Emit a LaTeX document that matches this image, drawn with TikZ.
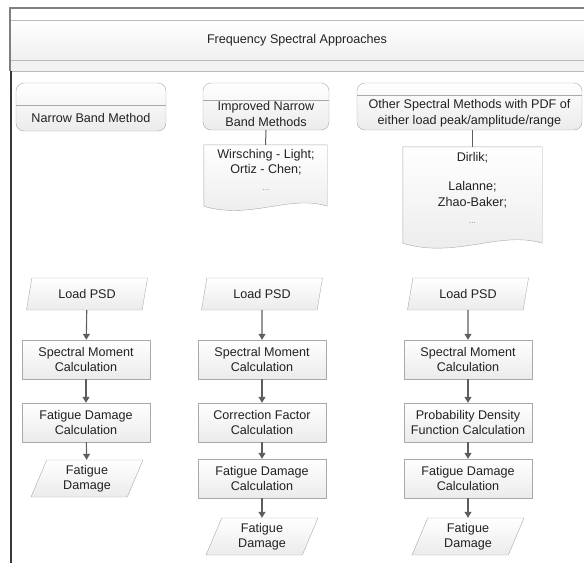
\documentclass[tikz,border=0pt]{standalone}
\usepackage{fontspec}
\setmainfont{Liberation Sans}
\usetikzlibrary{arrows.meta,shapes.geometric}
\definecolor{edgegray}{HTML}{A9A9A9}
\definecolor{flowgray}{HTML}{5E5E5E}
\definecolor{inkgray}{HTML}{222222}
\definecolor{shadegray}{HTML}{EBEBEB}
\newcommand\listdots{\textcolor{gray}{\fontsize{8}{9}\selectfont ...}}
\begin{document}
\begin{tikzpicture} [x=1pt, y=-1pt,
    >={Triangle[length=6pt, width=7pt]},
    every node/.style={inner sep=0pt, align=center, text=inkgray,
      font=\fontsize{12.6}{15.5}\selectfont},
    lanehead/.style={rectangle, rounded corners=8pt, draw=edgegray,
      top color=white, bottom color=shadegray, minimum height=47pt},
    docbox/.style={rectangle},
    docline/.style={draw=edgegray, top color=white, bottom color=shadegray},
    procbox/.style={rectangle, draw=edgegray, top color=white,
      bottom color=shadegray, minimum width=128pt, minimum height=39pt},
    iobox/.style={trapezium, trapezium left angle=60, trapezium right angle=120,
      trapezium stretches body, draw=edgegray, top color=white,
      bottom color=shadegray, minimum width=121pt, minimum height=32pt},
    flow/.style={->, draw=flowgray, line width=1.1pt}]
  \useasboundingbox (0,0) rectangle (584,563);

  % pool header
  \shade[top color=white, bottom color=gray!12] (10,20) rectangle (584,60);
  \fill[gray!10] (10,60) rectangle (584,71);
  \draw[edgegray!80] (10,20) -- (584,20) (10,60) -- (584,60) (10,71) -- (584,71);
  \draw[gray, line width=1.2pt] (584,8) -- (10,8) -- (10,71);
  \draw[inkgray!90, line width=2pt] (11,71) -- (11,563);
  \node (fsa) at (297,40) {Frequency Spectral Approaches};

  % lane headers
  \node[lanehead, minimum height=48pt, minimum width=150pt] (nbm) at (91,107) {};
  \draw[edgegray] (nbm.west |- 0,105) -- (nbm.east |- 0,105);
  \node (nbmt) at (91,118) {Narrow Band Method};

  \node[lanehead, minimum width=126pt] (inb) at (266,106.5) {};
  \draw[edgegray] (inb.west |- 0,100) -- (inb.east |- 0,100);
  \node (inbt) at (266,114) {Improved Narrow\\Band Methods};

  \node[lanehead, minimum width=225pt] (osm) at (469.5,106.5) {};
  \draw[edgegray] (osm.west |- 0,95) -- (osm.east |- 0,95);
  \node (osmt) at (469.5,113) {Other Spectral Methods with PDF of\\either load peak/amplitude/range};

  % method lists
  \node[docbox, minimum width=123pt, minimum height=61pt] (inbdoc) at (265.5,175.5) {};
  \shadedraw[docline] (inbdoc.south west) -- (inbdoc.north west) -- (inbdoc.north east)
    -- (inbdoc.south east) .. controls +(-37,-12) and +(46,14) .. (inbdoc.south west);
  \node (inbdoct) at (266,170) {Wirsching - Light;\\Ortiz - Chen;\\[1.5pt]\listdots};

  \node[docbox, minimum width=139pt, minimum height=96pt] (osmdoc) at (472.5,195) {};
  \shadedraw[docline] (osmdoc.south west) -- (osmdoc.north west) -- (osmdoc.north east)
    -- (osmdoc.south east) .. controls +(-42,-13) and +(52,16) .. (osmdoc.south west);
  \node (osmdoct) at (472.5,188) {Dirlik;\\[13.5pt]Lalanne;\\Zhao-Baker;\\[1.5pt]\listdots};

  \draw[flowgray, line width=1pt] (inb.south) -- (inbdoc.north);
  \draw[flowgray, line width=1pt] (osmdoc.north |- osm.south) -- (osmdoc.north);

  % narrow band
  \node[iobox] (psdA) at (87,294) {Load PSD};
  \node[procbox] (smA) at (86,359.5) {Spectral Moment\\Calculation};
  \node[procbox] (fdcA) at (86,422.5) {Fatigue Damage\\Calculation};
  \node[iobox, minimum width=112pt, minimum height=37pt] (fdA) at (87,478.5) {Fatigue\\Damage};

  % improved narrow band
  \node[iobox] (psdB) at (262,294) {Load PSD};
  \node[procbox] (smB) at (262,359.5) {Spectral Moment\\Calculation};
  \node[procbox] (cfB) at (262,422.5) {Correction Factor\\Calculation};
  \node[procbox] (fdcB) at (262,478.5) {Fatigue Damage\\Calculation};
  \node[iobox, minimum width=112pt, minimum height=37pt] (fdB) at (262,536.5) {Fatigue\\Damage};

  % other spectral
  \node[iobox] (psdC) at (468,294) {Load PSD};
  \node[procbox] (smC) at (468,359.5) {Spectral Moment\\Calculation};
  \node[procbox] (pdfC) at (468,422.5) {Probability Density\\Function Calculation};
  \node[procbox] (fdcC) at (468,478.5) {Fatigue Damage\\Calculation};
  \node[iobox, minimum width=112pt, minimum height=37pt] (fdC) at (468,536.5) {Fatigue\\Damage};

  \draw[flow] (psdA) -- (smA);
  \draw[flow] (smA) -- (fdcA);
  \draw[flow] (fdcA) -- (fdA);

  \draw[flow] (psdB) -- (smB);
  \draw[flow] (smB) -- (cfB);
  \draw[flow] (cfB) -- (fdcB);
  \draw[flow] (fdcB) -- (fdB);

  \draw[flow] (psdC) -- (smC);
  \draw[flow] (smC) -- (pdfC);
  \draw[flow] (pdfC) -- (fdcC);
  \draw[flow] (fdcC) -- (fdC);
\end{tikzpicture}
\end{document}
